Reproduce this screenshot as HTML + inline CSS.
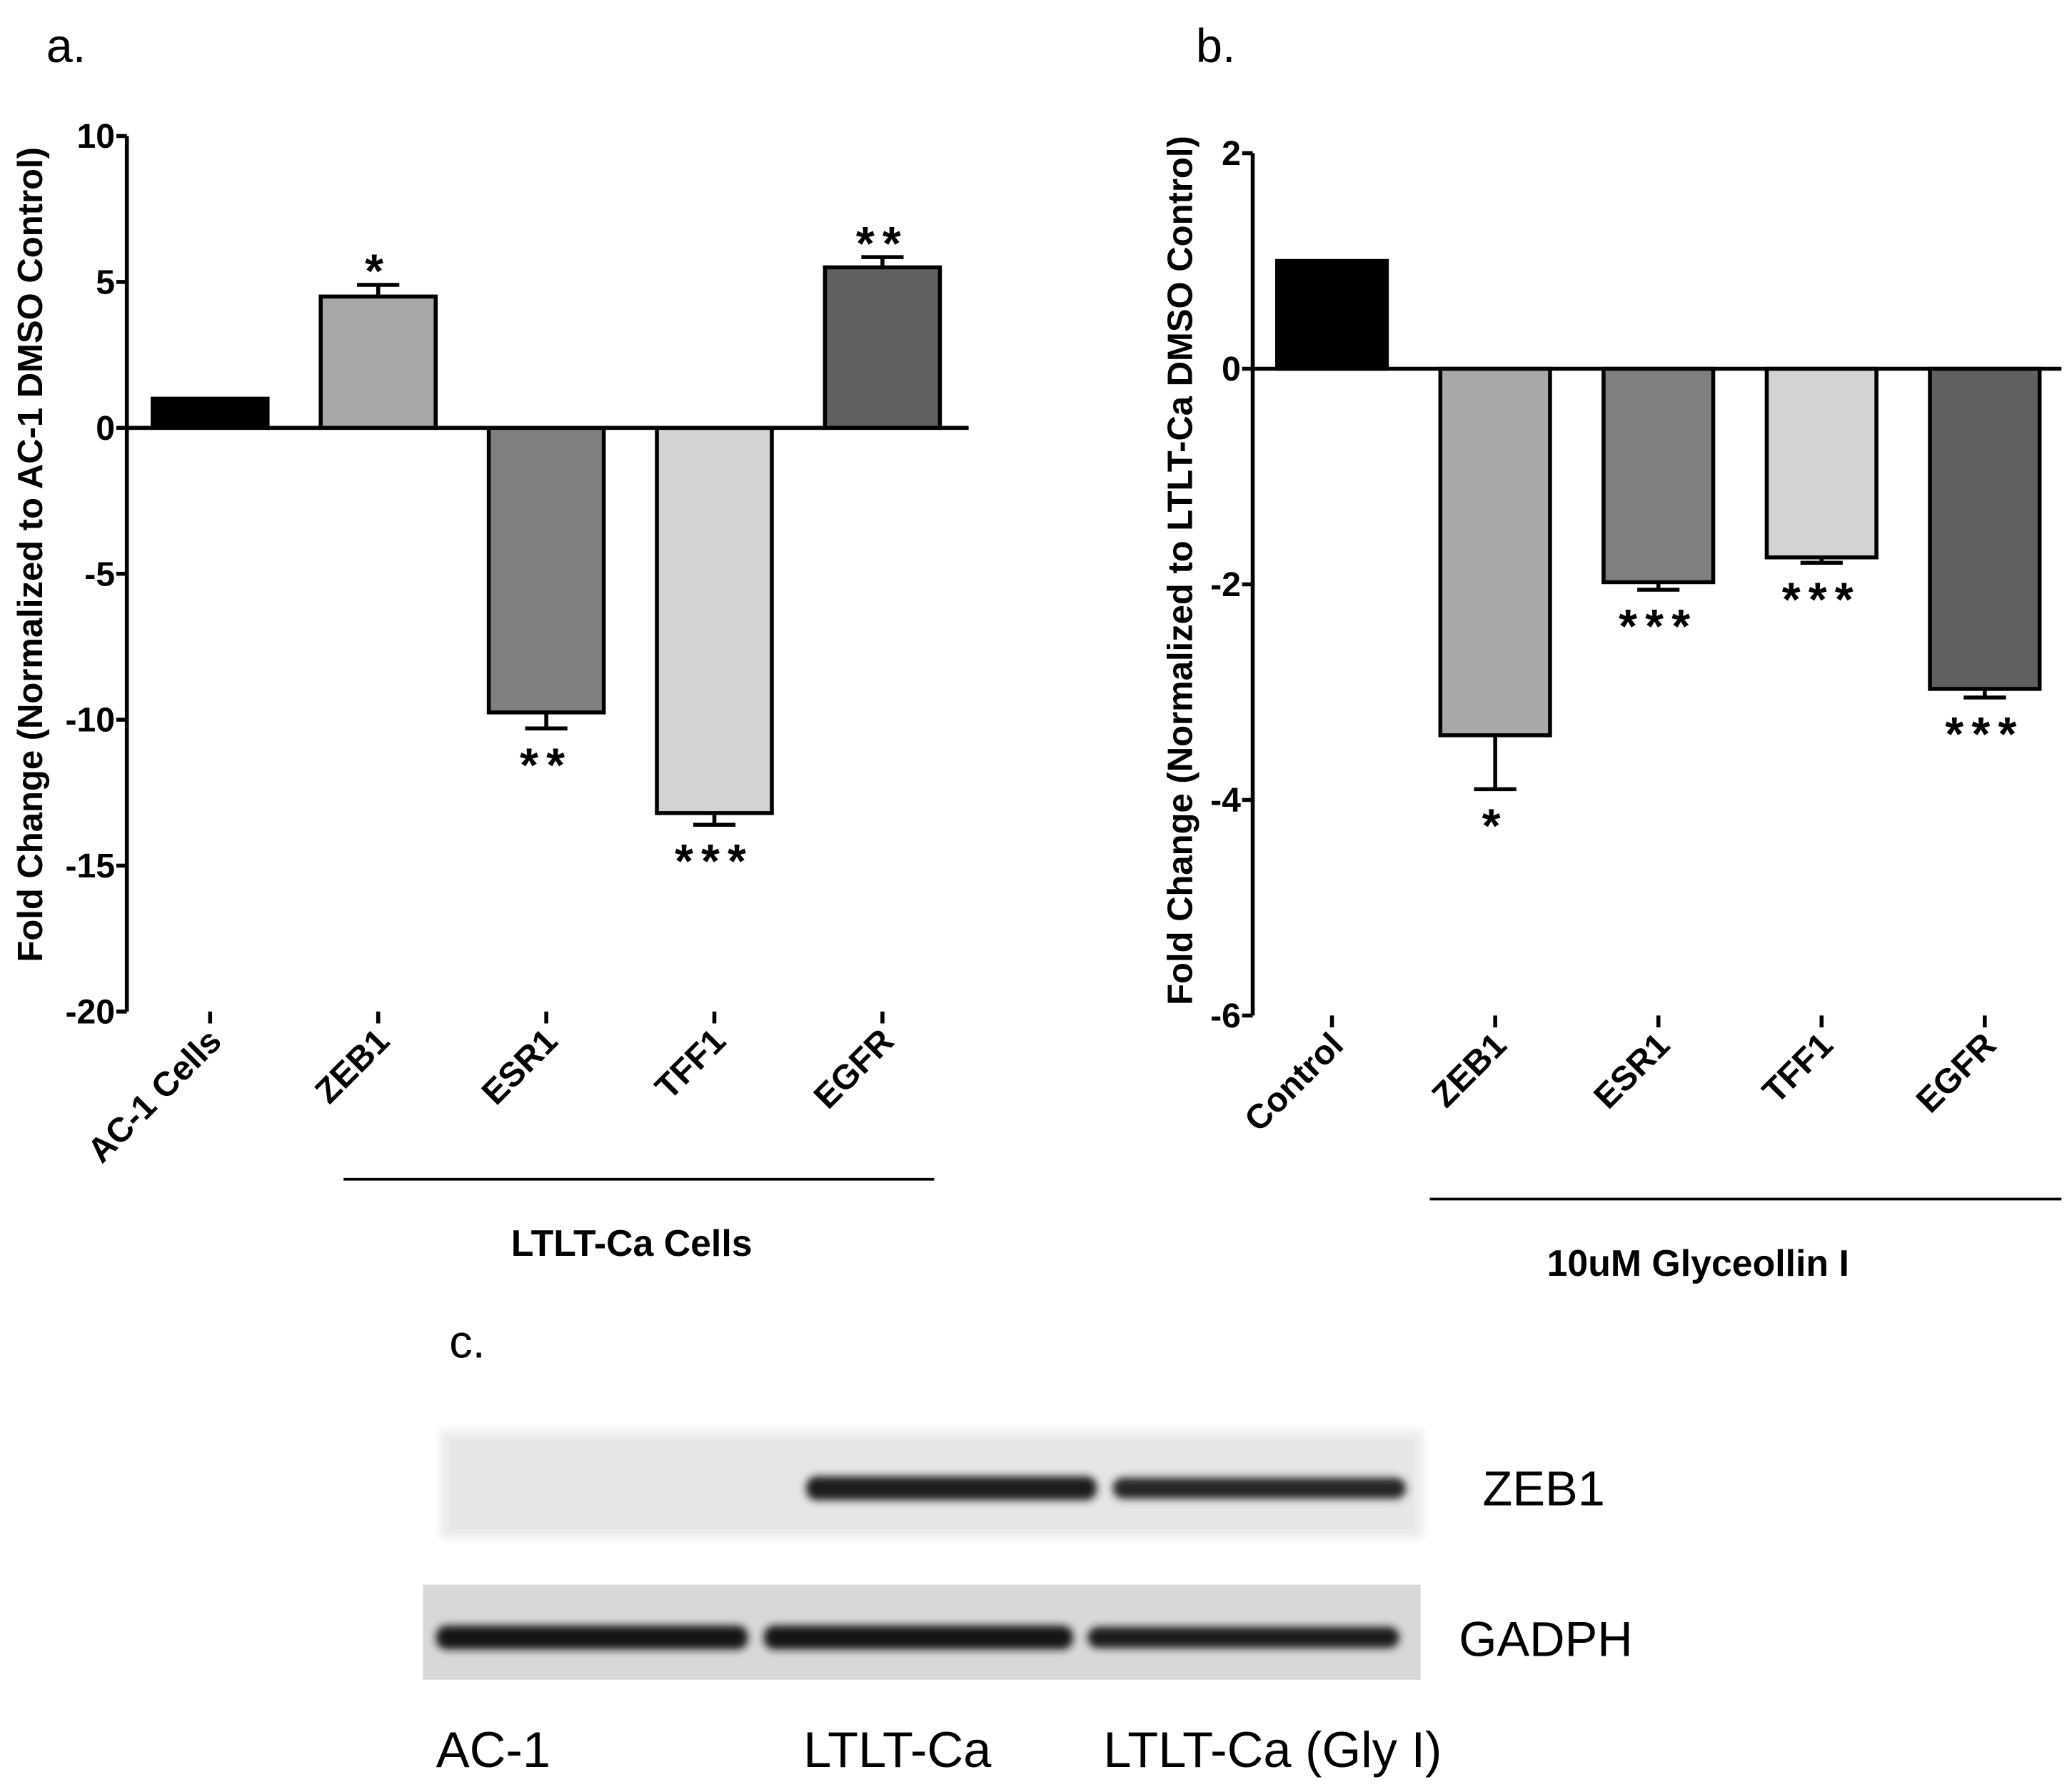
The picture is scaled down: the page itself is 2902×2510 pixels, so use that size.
<!DOCTYPE html>
<html><head><meta charset="utf-8"><style>
html,body{margin:0;padding:0;background:#fff}
svg{display:block}
text{font-family:"Liberation Sans",Arial,sans-serif}
</style></head><body>
<svg id="s" width="2902" height="2510" viewBox="0 0 1568 1357" preserveAspectRatio="none" xmlns="http://www.w3.org/2000/svg">
<defs>
<filter id="blur" x="-10%" y="-50%" width="120%" height="200%"><feGaussianBlur stdDeviation="3"/></filter>
</defs>
<text x="35" y="47" font-size="36">a.</text>
<text x="905" y="47" font-size="36">b.</text>
<text x="340" y="1028" font-size="35">c.</text>
<g id="ga"></g>
<g id="gb"></g>
<g>
 <rect x="333" y="1083" width="744" height="82" fill="#ececec" filter="url(#blur)"/>
 <rect x="340" y="1090" width="730" height="68" fill="#e6e6e6"/>
 <rect x="610" y="1118" width="220" height="18" rx="8" fill="#1e1e1e" filter="url(#blur)"/>
 <rect x="842" y="1119" width="222" height="16" rx="8" fill="#262626" filter="url(#blur)"/>
 <rect x="320" y="1200" width="755" height="72" fill="#d8d8d8"/>
 <rect x="330" y="1231" width="236" height="18" rx="8" fill="#151515" filter="url(#blur)"/>
 <rect x="578" y="1231" width="234" height="18" rx="8" fill="#151515" filter="url(#blur)"/>
 <rect x="823" y="1232" width="236" height="16" rx="8" fill="#1e1e1e" filter="url(#blur)"/>
 <text x="1122" y="1140" font-size="37">ZEB1</text>
 <text x="1104" y="1254" font-size="37">GADPH</text>
 <text x="330" y="1338" font-size="38">AC-1</text>
 <text x="608" y="1338" font-size="38">LTLT-Ca</text>
 <text x="835" y="1338" font-size="38">LTLT-Ca (Gly I)</text>
</g>
</svg>
<script>
const NS="http://www.w3.org/2000/svg";
const catsA=["AC-1 Cells","ZEB1","ESR1","TFF1","EGFR"];
const valsA=[1,4.5,-9.75,-13.2,5.5];
const errA=[0,0.4,0.55,0.4,0.35];
const starsA=["","*","**","***","**"];
const ticksA=[10,5,0,-5,-10,-15,-20];
const catsB=["Control","ZEB1","ESR1","TFF1","EGFR"];
const valsB=[1,-3.4,-1.98,-1.75,-2.97];
const errB=[0,0.5,0.07,0.05,0.08];
const starsB=["","*","***","***","***"];
const ticksB=[2,0,-2,-4,-6];
const colors=["#000","#a8a8aa","#808080","#d3d3d3","#606060"];
function el(p,t,a){const e=document.createElementNS(NS,t);for(const k in a)e.setAttribute(k,a[k]);p.appendChild(e);return e;}
function draw(g,o){
 const y=v=>o.yTop+(o.ymax-v)/(o.ymax-o.ymin)*(o.yBot-o.yTop);
 const x=i=>o.x0+i*o.step;
 let ax=el(g,'line',{x1:o.axX,y1:o.yTop,x2:o.axX,y2:o.yBot,stroke:'#000','stroke-width':3});
 
 o.ticks.forEach(t=>{
  el(g,'line',{x1:o.axX-8,y1:y(t),x2:o.axX,y2:y(t),stroke:'#000','stroke-width':3});
  let tx=el(g,'text',{x:o.axX-9,y:y(t)+9,'font-size':26,'font-weight':'bold','text-anchor':'end'});
  tx.textContent=t;
  
 });
 o.vals.forEach((v,i)=>{
  const cx=x(i),w=o.bw,y0=y(0),yv=y(v);
  let r=el(g,'rect',{x:cx-w/2,y:Math.min(y0,yv),width:w,height:Math.abs(yv-y0),fill:colors[i],stroke:'#000','stroke-width':3});
  
  
  if(o.err[i]>0){
   const ye=y(v+Math.sign(v)*o.err[i]);
   el(g,'line',{x1:cx,y1:yv,x2:cx,y2:ye,stroke:'#000','stroke-width':3});
   el(g,'line',{x1:cx-16,y1:ye,x2:cx+16,y2:ye,stroke:'#000','stroke-width':3});
   const sy=v>0?ye+2:ye+40;
   let s=el(g,'text',{x:cx,y:sy,'font-size':36,'font-weight':'bold','text-anchor':'middle','letter-spacing':6});
   s.textContent=o.stars[i];
   
  }
  el(g,'line',{x1:cx,y1:o.yBot,x2:cx,y2:o.yBot+9,stroke:'#000','stroke-width':3});
  let lb=el(g,'text',{x:cx+10,y:o.yBot+24,'font-size':26,'font-weight':'bold','text-anchor':'end',transform:`rotate(-45 ${cx+10} ${o.yBot+24})`});
  lb.textContent=o.cats[i];
  
 });
 let z=el(g,'line',{x1:o.axX,y1:y(0),x2:o.axEnd,y2:y(0),stroke:'#000','stroke-width':3});
 
 let yt=el(g,'text',{x:o.ytX,y:o.ytY,'font-size':26.5,'font-weight':'bold','text-anchor':'middle',transform:`rotate(-90 ${o.ytX} ${o.ytY})`});
 yt.textContent=o.ytitle;
 let gl=el(g,'line',{x1:o.grp[0],y1:o.grp[2],x2:o.grp[1],y2:o.grp[2],stroke:'#000','stroke-width':2});
 
 let gt=el(g,'text',{x:o.gx,y:o.grp[2]+58,'font-size':28,'font-weight':'bold','text-anchor':'middle'});
 gt.textContent=o.grpLabel;
}
draw(document.getElementById('ga'),{cats:catsA,vals:valsA,err:errA,stars:starsA,ticks:ticksA,ymax:10,ymin:-20,yTop:103,yBot:766,axX:96,axEnd:733,x0:159,step:127.2,bw:87,ytX:32,ytY:420,ytitle:"Fold Change (Normalized to AC-1 DMSO Control)",grp:[260,707,893],gx:478,grpLabel:"LTLT-Ca Cells"});
draw(document.getElementById('gb'),{cats:catsB,vals:valsB,err:errB,stars:starsB,ticks:ticksB,ymax:2,ymin:-6,yTop:116,yBot:769,axX:948,axEnd:1560,x0:1008,step:123.5,bw:83,ytX:902,ytY:432,ytitle:"Fold Change (Normalized to LTLT-Ca DMSO Control)",grp:[1082,1560,908],gx:1285,grpLabel:"10uM Glyceollin I"});
</script>
</body></html>
